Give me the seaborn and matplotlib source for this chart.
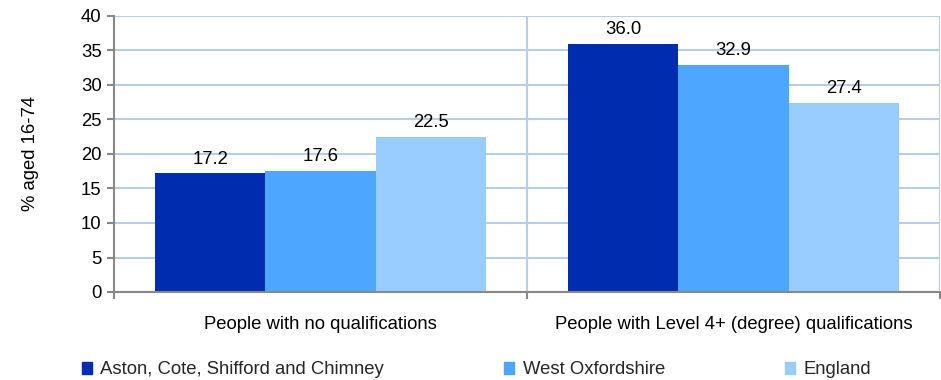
import matplotlib
matplotlib.use("Agg")
import matplotlib.pyplot as plt
import seaborn as sns
import pandas as pd
from matplotlib.ticker import MultipleLocator, FixedLocator

categories = ["People with no qualifications", "People with Level 4+ (degree) qualifications"]
areas = ["Aston, Cote, Shifford and Chimney", "West Oxfordshire", "England"]
aston = [17.2, 36.0]
west_oxon = [17.6, 32.9]
england = [22.5, 27.4]
colors = ["#002db0", "#4da6ff", "#99ccff"]

rows = []
for area, vals in zip(areas, [aston, west_oxon, england]):
    for cat, v in zip(categories, vals):
        rows.append({"category": cat, "area": area, "value": v})
df = pd.DataFrame(rows)

sns.set_theme(style="white")
plt.rcParams["font.family"] = ["Liberation Sans", "DejaVu Sans"]
FS = 13.3

fig = plt.figure(figsize=(9.41, 3.8), dpi=100)
ax = fig.add_axes([114 / 941, 1 - 292 / 380, 826 / 941, 276 / 380])

sns.barplot(data=df, x="category", y="value", hue="area", order=categories,
            hue_order=areas, palette=colors, width=0.8, saturation=1,
            edgecolor="none", linewidth=0, ax=ax, legend=False, zorder=3)

for cont in ax.containers:
    ax.bar_label(cont, fmt="%.1f", padding=4, fontsize=FS, color="black")

ax.set_xlim(-0.5, 1.5)
ax.set_ylim(0, 40)
ax.yaxis.set_major_locator(MultipleLocator(5))
ax.grid(axis="y", color="#b9cde5", linewidth=1.5, zorder=0)
for xv in [0.5, 1.5]:
    ax.axvline(xv, color="#b9cde5", linewidth=1.5, zorder=0)

for side in ["top", "right"]:
    ax.spines[side].set_visible(False)
for side in ["left", "bottom"]:
    ax.spines[side].set_color("#888888")
    ax.spines[side].set_linewidth(1.5)
    ax.spines[side].set_zorder(4)

ax.set_xlabel("")
ax.set_ylabel("% aged 16-74", fontsize=FS, color="black", labelpad=30)
ax.tick_params(axis="y", labelsize=FS, colors="black", left=True, length=5,
               width=1.5, color="#888888", pad=4)
ax.tick_params(axis="x", labelsize=FS, colors="black", bottom=False, pad=11)
ax.xaxis.set_minor_locator(FixedLocator([-0.5, 0.5, 1.5]))
ax.tick_params(axis="x", which="minor", bottom=True, length=5, width=1.5,
               color="#888888")

handles = [plt.Rectangle((0, 0), 1, 1, color=c) for c in colors]
fig.legend(handles, areas, loc="center left", bbox_to_anchor=(82 / 941, 1 - 370 / 380),
           ncol=3, frameon=False, fontsize=FS, handlelength=0.55, handleheight=0.55,
           handletextpad=0.45, columnspacing=6.5, borderaxespad=0, borderpad=0)

fig.savefig("out.png", dpi=100)
